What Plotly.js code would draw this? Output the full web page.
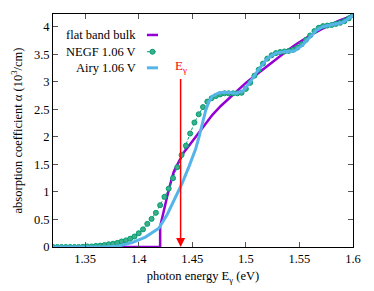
<!DOCTYPE html>
<html>
<head>
<meta charset="utf-8">
<script src="https://cdn.plot.ly/plotly-3.0.1.min.js"></script>
<style>
html,body{margin:0;padding:0;background:#fff;}
#chart{width:374px;height:291px;}
</style>
</head>
<body>
<div id="chart"></div>
<script>
// Flat band bulk (purple)
var bulkE = [1.32, 1.40, 1.42, 1.42, 1.4235, 1.4266, 1.4297, 1.4328, 1.4375, 1.4422, 1.4485, 1.4563, 1.4625, 1.4688, 1.4766, 1.4844, 1.4922, 1.5, 1.5078, 1.5156, 1.5234, 1.5313, 1.5391, 1.5469, 1.5547, 1.5625, 1.5703, 1.5781, 1.5859, 1.5938, 1.6];
var bulkA = [0, 0, 0, 0.37, 0.68, 0.92, 1.16, 1.37, 1.55, 1.72, 1.88, 2.08, 2.24, 2.40, 2.56, 2.70, 2.84, 2.98, 3.10, 3.22, 3.34, 3.46, 3.57, 3.68, 3.78, 3.87, 3.95, 4.03, 4.10, 4.16, 4.21];

// NEGF 1.06 V (green, points)
var negfE = [1.320,1.324,1.328,1.332,1.336,1.340,1.344,1.348,1.352,1.356,1.360,1.364,1.368,1.372,1.376,1.380,1.384,1.388,1.392,1.396,1.400,1.404,1.408,1.412,1.416,1.420,1.424,1.428,1.432,1.436,1.440,1.444,1.448,1.452,1.456,1.460,1.464,1.468,1.472,1.476,1.480,1.484,1.488,1.492,1.496,1.500,1.504,1.508,1.512,1.516,1.520,1.524,1.528,1.532,1.536,1.540,1.544,1.548,1.552,1.556,1.560,1.564,1.568,1.572,1.576,1.580,1.584,1.588,1.592,1.596,1.600];
var negfA = [0,0,0,0,0,0,0,0.005,0.01,0.01,0.02,0.025,0.035,0.05,0.06,0.075,0.10,0.12,0.15,0.19,0.25,0.32,0.42,0.51,0.62,0.76,0.91,1.06,1.25,1.45,1.67,1.84,2.06,2.26,2.41,2.54,2.64,2.70,2.74,2.77,2.79,2.79,2.79,2.79,2.80,2.87,2.98,3.11,3.22,3.33,3.42,3.48,3.52,3.54,3.55,3.56,3.58,3.62,3.68,3.76,3.84,3.92,3.98,4.01,4.02,4.03,4.05,4.07,4.10,4.15,4.21];

// Airy 1.06 V (light blue)
var airyE = [1.32, 1.35, 1.37, 1.3813, 1.3938, 1.4063, 1.4188, 1.4266, 1.4344, 1.4406, 1.4469, 1.4531, 1.4563, 1.4594, 1.4625, 1.4656, 1.4688, 1.475, 1.4828, 1.4906, 1.4969, 1.5031, 1.5086, 1.5125, 1.5203, 1.5281, 1.5375, 1.5453, 1.5531, 1.5594, 1.5656, 1.5719, 1.5781, 1.5844, 1.5906, 1.5953, 1.6];
var airyA = [0, 0, 0.005, 0.02, 0.08, 0.18, 0.34, 0.59, 0.92, 1.16, 1.46, 1.78, 2.0, 2.25, 2.48, 2.64, 2.74, 2.80, 2.81, 2.79, 2.83, 2.97, 3.13, 3.24, 3.43, 3.52, 3.55, 3.56, 3.67, 3.80, 3.93, 4.00, 4.03, 4.05, 4.08, 4.14, 4.21];

// Photon energy marker (arrow drawn from the E_gamma label down to the axis)
var photonEnergy = 1.4391;
var labelLevel = 3.27;

var xTicks = [1.35, 1.4, 1.45, 1.5, 1.55, 1.6];
var xTickText = ['1.35', '1.4', '1.45', '1.5', '1.55', '1.6'];
var yTicks = [0, 0.5, 1, 1.5, 2, 2.5, 3, 3.5, 4];
var yTickText = ['0', '0.5', '1', '1.5', '2', '2.5', '3', '3.5', '4'];

var purple = '#9400d3', green = '#009e73', blue = '#56b4e9', red = '#ff0000';
var font = 'Liberation Serif';

var traces = [
  {x: bulkE, y: bulkA, mode: 'lines', name: 'flat band bulk',
   line: {color: purple, width: 2.5}, showlegend: false},
  {x: negfE, y: negfA, mode: 'lines+markers', name: 'NEGF 1.06 V',
   line: {color: green, width: 1, dash: '3px,2px'},
   marker: {symbol: 'circle', size: 5, color: '#3fae8a', line: {color: green, width: 1}}, showlegend: false},
  {x: airyE, y: airyA, mode: 'lines', name: 'Airy 1.06 V',
   line: {color: blue, width: 3}, showlegend: false}
];

// legend geometry (paper coords)
var legRows = [0.91, 0.838, 0.769];
var legTextX = 0.283, legL0 = 0.313, legL1 = 0.35;

var axisCommon = {
  showline: true, linecolor: '#000', linewidth: 1, mirror: 'allticks',
  ticks: 'inside', ticklen: 5, tickcolor: '#555', tickwidth: 1,
  showgrid: false, zeroline: false,
  tickfont: {family: font, size: 12.5, color: '#000'}
};

var layout = {
  width: 374, height: 291,
  margin: {l: 53, r: 21, t: 14, b: 44},
  paper_bgcolor: '#fff', plot_bgcolor: '#fff',
  font: {family: font, size: 12.5, color: '#000'},
  showlegend: false,
  xaxis: Object.assign({}, axisCommon, {
    range: [1.32, 1.6], tickvals: xTicks, ticktext: xTickText,
    title: {text: 'photon energy E<sub>γ</sub> (eV)', font: {family: font, size: 12.5, color: '#000'}, standoff: 6}
  }),
  yaxis: Object.assign({}, axisCommon, {
    range: [0, 4.23], tickvals: yTicks, ticktext: yTickText,
    title: {text: 'absorption coefficient α (10<sup>3</sup>/cm)', font: {family: font, size: 12.5, color: '#000'}, standoff: 8}
  }),
  annotations: [
    {x: photonEnergy, y: 0, ax: photonEnergy, ay: labelLevel, xref: 'x', yref: 'y', axref: 'x', ayref: 'y',
     text: 'E<sub>γ</sub>', showarrow: true, arrowhead: 2, arrowsize: 1.2, arrowwidth: 1.5, arrowcolor: red,
     borderpad: 3, font: {family: font, size: 13, color: red}},
    {x: legTextX, y: legRows[0], xref: 'paper', yref: 'paper', text: 'flat band bulk', showarrow: false,
     xanchor: 'right', yanchor: 'middle', font: {family: font, size: 12.5, color: '#000'}},
    {x: legTextX, y: legRows[1], xref: 'paper', yref: 'paper', text: 'NEGF 1.06 V', showarrow: false,
     xanchor: 'right', yanchor: 'middle', font: {family: font, size: 12.5, color: '#000'}},
    {x: legTextX, y: legRows[2], xref: 'paper', yref: 'paper', text: 'Airy 1.06 V', showarrow: false,
     xanchor: 'right', yanchor: 'middle', font: {family: font, size: 12.5, color: '#000'}}
  ],
  shapes: [
    {type: 'line', xref: 'paper', yref: 'paper', x0: legL0, x1: legL1, y0: legRows[0], y1: legRows[0],
     line: {color: purple, width: 2.5}},
    {type: 'line', xref: 'paper', yref: 'paper', x0: legL0, x1: legL1, y0: legRows[1], y1: legRows[1],
     line: {color: green, width: 1, dash: 'dash'}},
    {type: 'circle', xref: 'paper', yref: 'paper', xsizemode: 'pixel', ysizemode: 'pixel',
     xanchor: (legL0 + legL1) / 2, yanchor: legRows[1], x0: -2.5, x1: 2.5, y0: -2.5, y1: 2.5,
     fillcolor: '#3fae8a', line: {color: green, width: 1}},
    {type: 'line', xref: 'paper', yref: 'paper', x0: legL0, x1: legL1, y0: legRows[2], y1: legRows[2],
     line: {color: blue, width: 3}}
  ]
};

Plotly.newPlot('chart', traces, layout, {displayModeBar: false, staticPlot: true});
</script>
</body>
</html>
